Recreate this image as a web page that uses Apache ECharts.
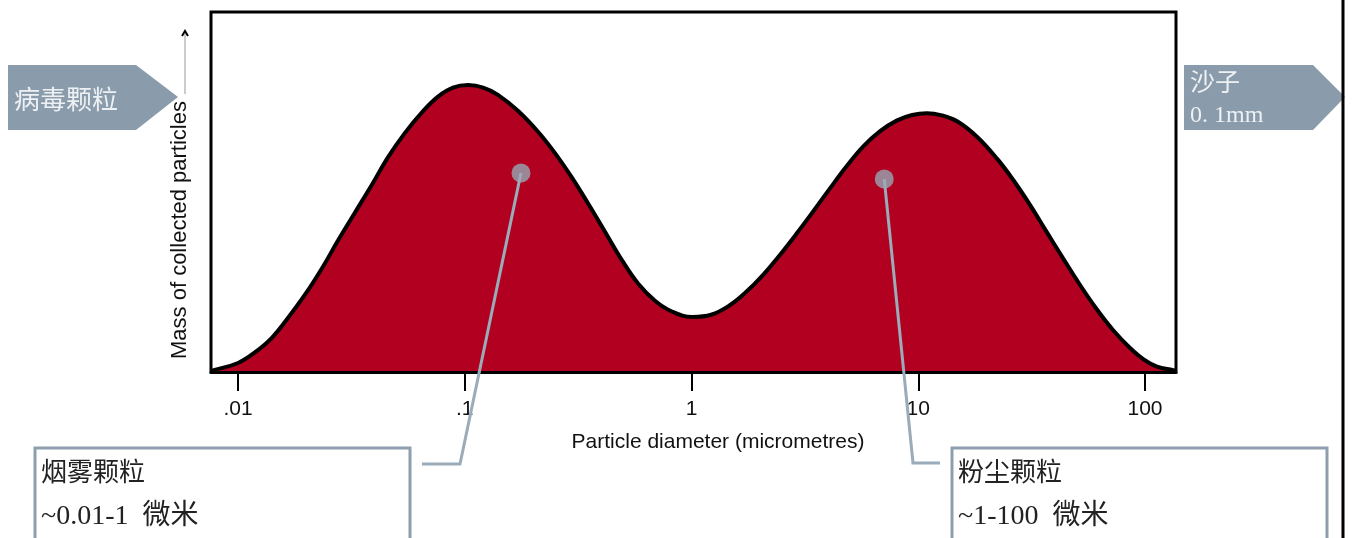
<!DOCTYPE html>
<html>
<head>
<meta charset="utf-8">
<script src="https://cdn.jsdelivr.net/npm/echarts@6/dist/echarts.min.js"></script>
<style>html,body{margin:0;padding:0;background:#fff;}#c{width:1356px;height:538px;}</style>
</head>
<body>
<div id="c"></div>
<script>
// Particle diameter (micrometres) along the curve
const diameters = [0.0076, 0.0079, 0.0100, 0.0119, 0.0141, 0.0166, 0.0198, 0.0235, 0.0276, 0.0328, 0.0390, 0.0459, 0.0546, 0.0649, 0.0762, 0.0887, 0.1035, 0.1205, 0.140, 0.172, 0.210, 0.250, 0.297, 0.350, 0.416, 0.494, 0.581, 0.690, 0.820, 1.01, 1.22, 1.48, 1.74, 2.07, 2.46, 2.92, 3.44, 4.08, 4.81, 5.71, 6.79, 8.07, 9.40, 10.9, 12.7, 14.9, 18.2, 22.3, 26.2, 31.2, 36.6, 43.6, 51.8, 61.5, 72.4, 86.1, 98.2, 113, 133, 137];
// Mass of collected particles (relative)
const mass = [0.3, 0.6, 2.5, 5.5, 9.5, 15.0, 21.6, 28.9, 36.5, 44.3, 52.1, 59.7, 66.5, 72.2, 76.5, 79.0, 79.7, 79.0, 77.0, 72.5, 66.8, 60.8, 54.0, 46.8, 38.9, 31.0, 24.6, 19.8, 16.8, 15.3, 15.9, 18.6, 22.2, 27.0, 32.6, 38.6, 44.6, 51.0, 57.0, 62.6, 66.9, 69.9, 71.4, 71.9, 71.3, 69.6, 65.3, 59.2, 53.4, 46.3, 39.2, 31.5, 24.1, 17.3, 11.6, 6.6, 3.6, 1.5, 0.5, 0.3];
// Tick values and labels
const tickValues = [0.01, 0.1, 1, 10, 100];
const tickLabels = ['.01', '.1', '1', '10', '100'];
// Annotation markers
const annoDiameter = [0.177, 7.08];
const annoMass = [55.3, 53.6];
const annoTitles = ['烟雾颗粒', '粉尘颗粒'];
const annoRanges = ['~0.01-1  微米', '~1-100  微米'];
const xTitle = 'Particle diameter (micrometres)';
const yTitle = 'Mass of collected particles';
const leftTag = '病毒颗粒';
const rightTag = ['沙子', '0. 1mm'];

const lg = v => Math.log10(v);
const xMin = lg(diameters[0]);
const xMax = lg(diameters[diameters.length - 1]);
const FONT = 'Liberation Sans, Arial, Helvetica, sans-serif';
const CJK = '"Noto Sans CJK SC", sans-serif';
const SERIF = '"Liberation Serif", "Noto Sans CJK SC", serif';

const chart = echarts.init(document.getElementById('c'), null, {renderer: 'canvas'});
chart.setOption({
  animation: false,
  backgroundColor: '#fff',
  grid: {left: 211, right: 180, top: 12, bottom: 166, show: true, borderColor: '#000', borderWidth: 3, backgroundColor: 'transparent'},
  xAxis: {
    type: 'value', min: xMin, max: xMax, z: 5,
    axisLine: {show: true, lineStyle: {color: '#000', width: 3}},
    axisTick: {show: true, length: 19, lineStyle: {color: '#000', width: 2}, customValues: tickValues.map(lg)},
    axisLabel: {show: true, customValues: tickValues.map(lg), margin: 27, fontSize: 21, color: '#111', fontFamily: FONT,
      formatter: v => { const i = tickValues.findIndex(t => Math.abs(lg(t) - v) < 1e-6); return i >= 0 ? tickLabels[i] : ''; }},
    splitLine: {show: false}
  },
  yAxis: {type: 'value', min: 0, max: 100, show: false, splitLine: {show: false}},
  series: [
    {
      type: 'line', smooth: 0.4, symbol: 'none', z: 2,
      data: diameters.map((d, i) => [lg(d), mass[i]]),
      lineStyle: {color: '#000', width: 4},
      areaStyle: {color: '#b20020', opacity: 1}
    },
    {
      type: 'scatter', symbol: 'circle', symbolSize: 19, z: 8,
      data: annoDiameter.map((d, i) => [lg(d), annoMass[i]]),
      itemStyle: {color: '#96a7b4'}
    }
  ]
});

const p0 = chart.convertToPixel({gridIndex: 0}, [lg(annoDiameter[0]), annoMass[0]]);
const p1 = chart.convertToPixel({gridIndex: 0}, [lg(annoDiameter[1]), annoMass[1]]);
const lineCol = '#9aabb9';
const boxCol = '#8e9eae';
const tagCol = '#8a9bab';

chart.setOption({
  graphic: [
    // right edge rule
    {type: 'line', z: 20, shape: {x1: 1343, y1: 0, x2: 1343, y2: 538}, style: {stroke: '#000', lineWidth: 3}},
    // left tag arrow
    {type: 'polygon', z: 10, shape: {points: [[8, 65], [136, 65], [178, 97], [136, 130], [8, 130]]}, style: {fill: tagCol}},
    {type: 'text', z: 11, x: 14, y: 99, style: {text: leftTag, font: '26px ' + CJK, fill: '#eef1f4', align: 'left', verticalAlign: 'middle'}},
    // right tag arrow
    {type: 'polygon', z: 10, shape: {points: [[1184, 65], [1313, 65], [1345, 97], [1313, 130], [1184, 130]]}, style: {fill: tagCol}},
    {type: 'text', z: 11, x: 1190, y: 81, style: {text: rightTag[0], font: '25px ' + CJK, fill: '#eef1f4', align: 'left', verticalAlign: 'middle'}},
    {type: 'text', z: 11, x: 1190, y: 116, style: {text: rightTag[1], font: '24px ' + SERIF, fill: '#eef1f4', align: 'left', verticalAlign: 'middle'}},
    // y title with arrow
    {type: 'text', z: 11, x: 180, y: 230, rotation: Math.PI / 2, style: {text: yTitle, font: '22px ' + FONT, fill: '#111', align: 'center', verticalAlign: 'middle'}},
    {type: 'line', z: 11, shape: {x1: 185, y1: 94, x2: 185, y2: 34}, style: {stroke: '#999', lineWidth: 1}},
    {type: 'polyline', z: 11, shape: {points: [[182, 36], [185, 31], [188, 36]]}, style: {stroke: '#000', lineWidth: 2, fill: null}},
    // x title
    {type: 'text', z: 11, x: 718, y: 442, style: {text: xTitle, font: '21px ' + FONT, fill: '#111', align: 'center', verticalAlign: 'middle'}},
    // leader lines
    {type: 'polyline', z: 9, shape: {points: [[p0[0], p0[1]], [460, 464], [422, 464]]}, style: {stroke: lineCol, lineWidth: 3, fill: null}},
    {type: 'polyline', z: 9, shape: {points: [[p1[0], p1[1]], [913, 463], [940, 463]]}, style: {stroke: lineCol, lineWidth: 3, fill: null}},
    // boxes
    {type: 'rect', z: 10, shape: {x: 35, y: 448, width: 375, height: 120}, style: {fill: '#fff', stroke: boxCol, lineWidth: 3}},
    {type: 'text', z: 11, x: 41, y: 471, style: {text: annoTitles[0], font: '26px ' + CJK, fill: '#222', align: 'left', verticalAlign: 'middle'}},
    {type: 'text', z: 11, x: 41, y: 517, style: {text: annoRanges[0], font: '28px ' + SERIF, fill: '#222', align: 'left', verticalAlign: 'middle'}},
    {type: 'rect', z: 10, shape: {x: 952, y: 448, width: 375, height: 120}, style: {fill: '#fff', stroke: boxCol, lineWidth: 3}},
    {type: 'text', z: 11, x: 958, y: 471, style: {text: annoTitles[1], font: '26px ' + CJK, fill: '#222', align: 'left', verticalAlign: 'middle'}},
    {type: 'text', z: 11, x: 958, y: 517, style: {text: annoRanges[1], font: '28px ' + SERIF, fill: '#222', align: 'left', verticalAlign: 'middle'}}
  ]
});
</script>
</body>
</html>
